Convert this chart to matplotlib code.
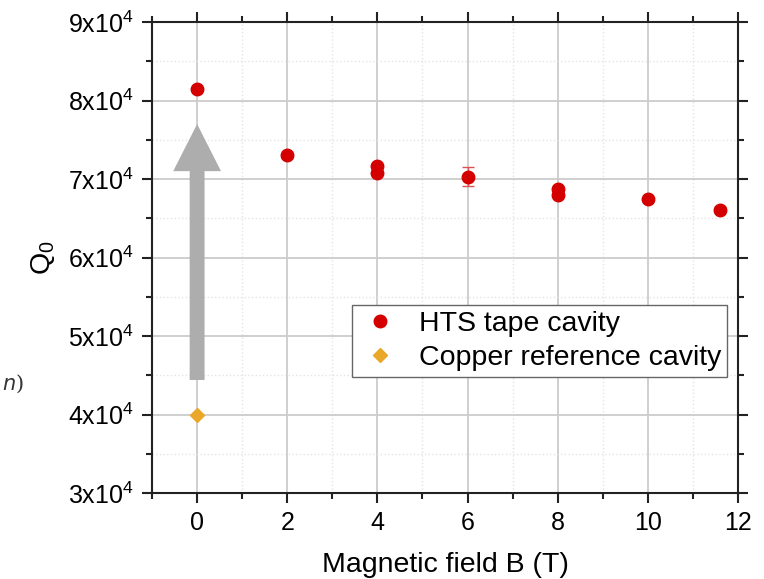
import matplotlib
matplotlib.use("Agg")
import matplotlib.pyplot as plt
from matplotlib.ticker import MultipleLocator, FixedLocator, FixedFormatter
from matplotlib.patches import FancyArrow

plt.rcParams['font.family'] = ['Liberation Sans', 'DejaVu Sans']
plt.rcParams['mathtext.fontset'] = 'custom'
plt.rcParams['mathtext.rm'] = 'Liberation Sans'
plt.rcParams['mathtext.default'] = 'regular'

# Data
hts_B = [0, 2, 4, 4, 6, 8, 8, 10, 11.6]
hts_Q = [81450, 73000, 71600, 70750, 70300, 68750, 67900, 67450, 66100]
hts_err = [200, 350, 250, 250, 1230, 250, 250, 200, 300]
cu_B = [0]
cu_Q = [40000]
yticks = [30000, 40000, 50000, 60000, 70000, 80000, 90000]
ytick_labels = ['3x10$^4$', '4x10$^4$', '5x10$^4$', '6x10$^4$', '7x10$^4$', '8x10$^4$', '9x10$^4$']
xticks = [0, 2, 4, 6, 8, 10, 12]

fig = plt.figure(figsize=(7.64, 5.79), dpi=100)
ax = fig.add_axes([0.199, 0.1485, 0.767, 0.8135])

ax.set_xlim(-1, 12)
ax.set_ylim(30000, 90000)

# grid
ax.set_axisbelow(True)
ax.grid(True, which='major', color='#cccccc', lw=1.3, ls='-')
ax.grid(True, which='minor', color='#e4e4e4', lw=1.0, ls=':')

# arrow
arrow = FancyArrow(0, 44400, 0, 77000 - 44400, width=0.33, head_width=1.06,
                   head_length=6000, length_includes_head=True,
                   color='#adadad', zorder=2, lw=0)
ax.add_patch(arrow)

ax.errorbar(hts_B, hts_Q, yerr=hts_err, fmt='none',
            ecolor='#e05050', elinewidth=1, capsize=4, capthick=1, zorder=3)
h_hts, = ax.plot(hts_B, hts_Q, 'o', color='#d40000', ms=9, ls='none',
                 label='HTS tape cavity', zorder=4)
h_cu, = ax.plot(cu_B, cu_Q, 'D', color='#e9a82a', ms=7.5, ls='none',
                label='Copper reference cavity', zorder=4)

ax.set_xticks(xticks)
ax.xaxis.set_minor_locator(MultipleLocator(1))
ax.yaxis.set_major_locator(FixedLocator(yticks))
ax.yaxis.set_major_formatter(FixedFormatter(ytick_labels))
ax.yaxis.set_minor_locator(MultipleLocator(5000))

ax.tick_params(which='both', direction='out', top=True, right=True,
               labeltop=False, labelright=False, width=1.5, color='#222222')
ax.tick_params(which='major', length=7, labelsize=18, pad=6)
ax.tick_params(which='minor', length=4)
for s in ax.spines.values():
    s.set_linewidth(1.5)
    s.set_color('#222222')

ax.set_xlabel('Magnetic field B (T)', fontsize=20.5, labelpad=12)
ax.set_ylabel('Q$_0$', fontsize=20.5, labelpad=8)

# legend
leg = ax.legend([h_hts, h_cu], ['HTS tape cavity', 'Copper reference cavity'],
                loc='upper left', bbox_to_anchor=(0.341, 0.399), fontsize=20.5,
                frameon=True, fancybox=False, edgecolor='#666666', framealpha=1,
                handletextpad=0.55, borderpad=0.2, labelspacing=0.3,
                handlelength=1.6, borderaxespad=0)
leg.get_frame().set_linewidth(1.0)

fig.text(0.002, 0.338, '$\\mathit{n}$)', fontsize=15, family='DejaVu Serif',
         color='#333333', ha='left', va='center')

fig.savefig('out.png', dpi=100)
